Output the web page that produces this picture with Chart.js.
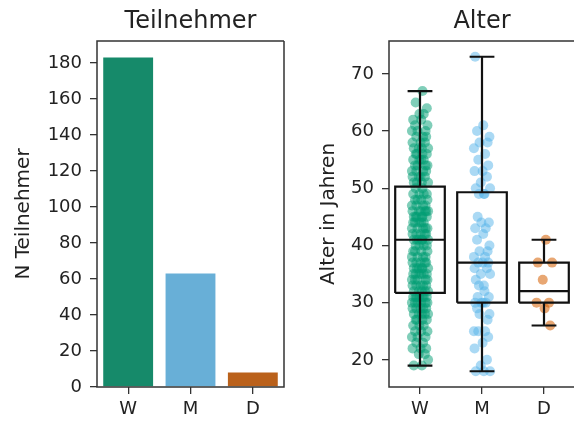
<!DOCTYPE html>
<html>
<head>
<meta charset="utf-8">
<script src="https://cdn.jsdelivr.net/npm/chart.js@4.4.1/dist/chart.umd.min.js"></script>
<style>
    html, body { margin: 0; padding: 0; background: #fff; overflow: hidden; }
    body { width: 574px; height: 425px; position: relative; }
    canvas { position: absolute; top: 0; }
    #count-chart { left: 0; }
    #age-chart { left: 290px; }
</style>
</head>
<body>
<canvas id="count-chart" width="290" height="425"></canvas>
<canvas id="age-chart" width="290" height="425"></canvas>
<script>
// Groups and participant counts
const groups = ['W', 'M', 'D'];
const counts = [183, 63, 8];
const countTicks = [0, 20, 40, 60, 80, 100, 120, 140, 160, 180];
const ageTicks = [20, 30, 40, 50, 60, 70];

// Ages per group
const agesW = [
    19, 19, 20, 21, 21, 22, 22, 22, 23, 23, 24, 24, 24, 25, 25, 25, 26, 26, 26,
    27, 27, 27, 27, 28, 28, 28, 28, 28, 29, 29, 29, 29, 29, 30, 30, 30, 30, 30, 30,
    31, 31, 31, 31, 31, 31, 31,
    32, 32, 32, 32, 32, 33, 33, 33, 33, 33, 34, 34, 34, 34, 34, 35, 35, 35, 35, 35, 35,
    36, 36, 36, 36, 36, 36, 37, 37, 37, 37, 37, 38, 38, 38, 38, 39, 39, 39, 39,
    40, 40, 40, 40, 41,
    41, 41, 41, 41, 41, 42, 42, 42, 42, 42, 43, 43, 43, 43, 43, 44, 44, 44, 44, 44,
    45, 45, 45, 45, 45, 45, 46, 46, 46, 46, 46, 46, 47, 47, 47, 47, 48, 48, 48, 48,
    49, 49, 49, 49, 50, 50,
    51, 51, 51, 51, 52, 52, 52, 52, 53, 53, 53, 53, 54, 54, 54, 54, 55, 55, 55, 55,
    56, 56, 56, 56, 57, 57, 57, 57, 58, 58, 58, 59, 59, 59, 60, 60, 60, 61, 61, 62, 62,
    63, 63, 64, 65, 67
];
const agesM = [
    18, 18, 18, 19, 20, 22, 23, 24, 25, 25, 25, 27, 28, 28, 29,
    30, 30, 30, 30, 31, 31, 32, 33, 33, 34, 35, 35, 36, 36, 37, 37, 37,
    38, 38, 39, 39, 40, 41, 42, 43, 43, 44, 44, 45, 49, 49, 49,
    50, 50, 51, 52, 53, 53, 54, 55, 56, 57, 58, 58, 59, 60, 61, 73
];
const agesD = [41, 37, 37, 34, 30, 30, 29, 26];

// Box statistics as drawn in the plot
const q1 = [31.7, 30, 30];
const median = [41, 37, 32];
const q3 = [50.3, 49.3, 37];
const whiskerLow = [19, 18, 26];
const whiskerHigh = [67, 73, 41];

// horizontal jitter for the strip points (category units)
const jitter = [0.03, -0.1, 0.13, -0.02, 0.08, -0.12, 0.01, 0.1, -0.06, 0.05, -0.13, 0.09,
    -0.04, 0.12, -0.08, 0.02, -0.11, 0.06, -0.01, 0.11, -0.07, 0.04, -0.05];

const barColors = ['#168a6a', '#68afd7', '#ba611b'];
const pointColors = ['rgba(2,158,115,0.5)', 'rgba(86,180,233,0.5)', 'rgba(213,94,0,0.55)'];

Chart.defaults.font.family = '"DejaVu Sans", sans-serif';
Chart.defaults.color = '#222';
Chart.defaults.animation = false;

// axes box like matplotlib spines (right side optional, the figure is cropped there)
const frame = {
    id: 'frame',
    afterDatasetsDraw(chart, args, opts) {
        const { ctx, chartArea: a } = chart;
        ctx.save();
        ctx.strokeStyle = '#333';
        ctx.lineWidth = 1.5;
        ctx.beginPath();
        ctx.moveTo(a.right, a.top);
        ctx.lineTo(a.left, a.top);
        ctx.lineTo(a.left, a.bottom);
        ctx.lineTo(a.right, a.bottom);
        if (opts.right !== false) ctx.lineTo(a.right, a.top);
        ctx.stroke();
        ctx.restore();
    }
};

const tickGrid = { drawOnChartArea: false, tickLength: 7, color: '#333', lineWidth: 1.3, offset: false };

const titleOpts = (text) => ({
    display: true,
    text,
    fullSize: false,
    font: { size: 24, weight: 'normal' },
    color: '#222',
    padding: { top: 7, bottom: 5.2 }
});

const yAxis = (min, max, ticks, title, width, titlePad) => ({
    min, max,
    afterBuildTicks: s => { s.ticks = ticks.map(v => ({ value: v })); },
    afterFit: s => { s.width = width; },
    grid: tickGrid,
    border: { display: false },
    ticks: { font: { size: 18 }, color: '#222', padding: 8 },
    title: { display: true, text: title, font: { size: 20 }, color: '#222', padding: { top: titlePad, bottom: 0 } }
});

// fixed height, and no extra side padding for the end labels
const fitX = s => { s.height = 38; s.paddingLeft = 0; s.paddingRight = 0; };

const xTicks = { font: { size: 18 }, color: '#222', padding: 5 };

// Left: participant counts
new Chart(document.getElementById('count-chart'), {
    type: 'bar',
    data: {
        labels: groups,
        datasets: [{
            data: counts,
            backgroundColor: barColors,
            borderWidth: 0,
            categoryPercentage: 1.0,
            barPercentage: 0.8
        }]
    },
    options: {
        responsive: false,
        layout: { autoPadding: false, padding: { left: 0, right: 6, top: 0, bottom: 0 } },
        plugins: { legend: { display: false }, tooltip: { enabled: false }, title: titleOpts('Teilnehmer') },
        scales: {
            x: {
                afterFit: fitX,
                grid: tickGrid,
                border: { display: false },
                ticks: xTicks
            },
            y: yAxis(0, 192.15, countTicks, 'N Teilnehmer', 97, 12)
        }
    },
    plugins: [frame]
});

// Right: age boxplots with strip points
const boxLines = [];
groups.forEach((g, i) => {
    const l = i - 0.4, r = i + 0.4, cl = i - 0.2, cr = i + 0.2;
    const gap = { x: i, y: null };
    boxLines.push(
        { x: l, y: q1[i] }, { x: r, y: q1[i] }, { x: r, y: q3[i] }, { x: l, y: q3[i] }, { x: l, y: q1[i] }, gap,
        { x: l, y: median[i] }, { x: r, y: median[i] }, gap,
        { x: i, y: q1[i] }, { x: i, y: whiskerLow[i] }, gap,
        { x: i, y: q3[i] }, { x: i, y: whiskerHigh[i] }, gap,
        { x: cl, y: whiskerLow[i] }, { x: cr, y: whiskerLow[i] }, gap,
        { x: cl, y: whiskerHigh[i] }, { x: cr, y: whiskerHigh[i] }, gap
    );
});

const pointSets = [agesW, agesM, agesD].map((ages, i) => ({
    type: 'scatter',
    data: ages.map((a, k) => ({ x: i + jitter[k % jitter.length], y: a })),
    backgroundColor: pointColors[i],
    borderWidth: 0,
    pointRadius: 5,
    order: 2
}));

new Chart(document.getElementById('age-chart'), {
    type: 'scatter',
    data: {
        datasets: [{
            type: 'line',
            data: boxLines,
            borderColor: '#111',
            borderWidth: 2.2,
            borderJoinStyle: 'miter',
            pointRadius: 0,
            spanGaps: false,
            fill: false,
            tension: 0,
            order: 1
        }, ...pointSets]
    },
    options: {
        responsive: false,
        layout: { autoPadding: false, padding: { left: 0, right: 5, top: 0, bottom: 0 } },
        plugins: {
            legend: { display: false },
            tooltip: { enabled: false },
            title: titleOpts('Alter'),
            frame: { right: false }
        },
        scales: {
            x: {
                type: 'linear',
                min: -0.5, max: 2.5,
                afterBuildTicks: s => { s.ticks = groups.map((g, i) => ({ value: i })); },
                afterFit: fitX,
                grid: tickGrid,
                border: { display: false },
                ticks: { ...xTicks, callback: v => groups[v] }
            },
            y: yAxis(15.25, 75.75, ageTicks, 'Alter in Jahren', 99, 27)
        }
    },
    plugins: [frame]
});
</script>
</body>
</html>
